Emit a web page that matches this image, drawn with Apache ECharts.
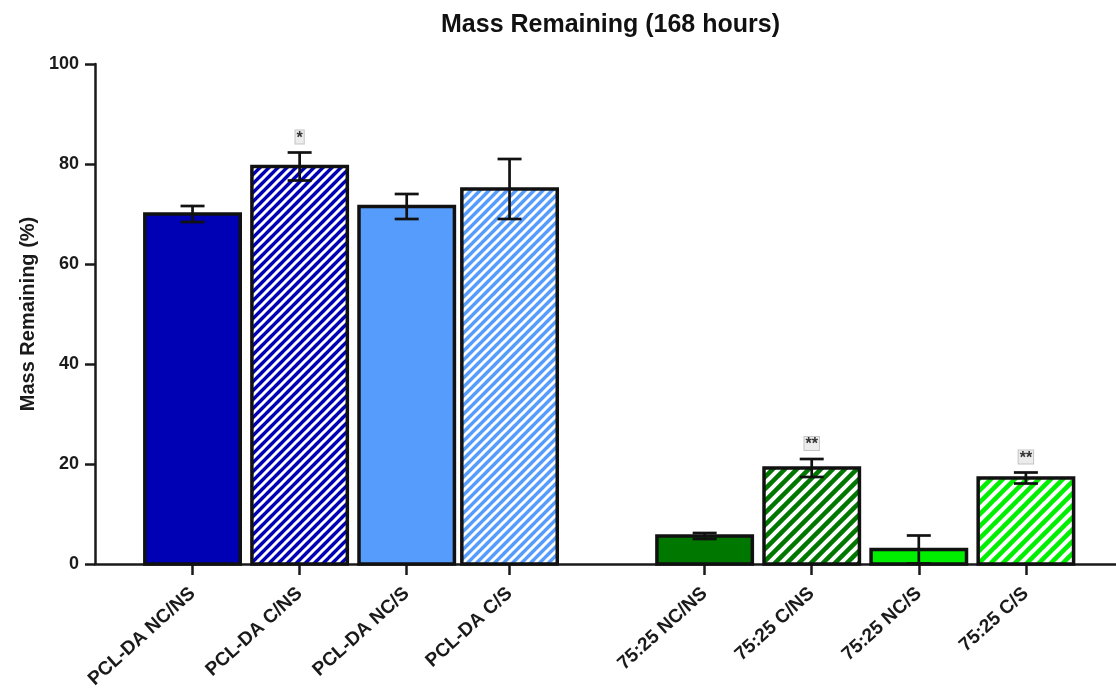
<!DOCTYPE html>
<html>
<head>
<meta charset="utf-8">
<script src="https://cdn.jsdelivr.net/npm/echarts@6/dist/echarts.min.js"></script>
<style>
  html, body { margin: 0; padding: 0; background: #fff; }
  #chart { width: 1116px; height: 696px; }
</style>
</head>
<body>
<div id="chart"></div>
<script>
// Groups and their positions along the x axis (gap between the two materials)
const groups = ['PCL-DA NC/NS', 'PCL-DA C/NS', 'PCL-DA NC/S', 'PCL-DA C/S',
                '75:25 NC/NS', '75:25 C/NS', '75:25 NC/S', '75:25 C/S'];
const positions = [0.92, 1.93, 2.94, 3.91, 5.75, 6.76, 7.77, 8.78];
// Mean mass remaining (%) and error (±)
const means = [70.0, 79.5, 71.5, 75.0, 5.6, 19.2, 2.9, 17.2];
const errors = [1.6, 2.8, 2.5, 6.0, 0.6, 1.8, 2.8, 1.1];
// Significance markers
const marks = ['', '*', '', '', '', '**', '', '**'];

// Fill style per bar: base colour and whether it is hatched
const fills = [
  { color: '#0000B4', hatch: false },
  { color: '#0000B4', hatch: true, period: 9, line: 3 },
  { color: '#569CFC', hatch: false },
  { color: '#569CFC', hatch: true, period: 9, line: 3 },
  { color: '#007800', hatch: false },
  { color: '#007800', hatch: true, period: 12, line: 4 },
  { color: '#00EE00', hatch: false },
  { color: '#00EE00', hatch: true, period: 12, line: 4 }
];

function makeHatch(color, p, w) {
  const c = document.createElement('canvas');
  c.width = p; c.height = p;
  const g = c.getContext('2d');
  g.fillStyle = color;
  g.fillRect(0, 0, p, p);
  g.strokeStyle = '#ffffff';
  g.lineWidth = w;
  g.lineCap = 'square';
  for (let k = -1; k <= 1; k++) {
    g.beginPath();
    g.moveTo(k * p, p);
    g.lineTo(k * p + p, 0);
    g.stroke();
  }
  return { image: c, repeat: 'repeat' };
}
const fillStyles = fills.map(f => f.hatch ? makeHatch(f.color, f.period, f.line) : f.color);

const seriesData = positions.map((x, i) => [x, means[i], errors[i], i]);

const ink = '#1a1a1a';
const font = '"Liberation Sans", Arial, sans-serif';

const chart = echarts.init(document.getElementById('chart'), null, { renderer: 'canvas' });

function labelFor(v) {
  for (let i = 0; i < positions.length; i++) {
    if (Math.abs(positions[i] - v) < 1e-6) return groups[i];
  }
  return '';
}

chart.setOption({
  animation: false,
  backgroundColor: '#ffffff',
  title: {
    text: 'Mass Remaining (168 hours)',
    left: 436,
    top: 8,
    textStyle: { fontFamily: font, fontSize: 25, fontWeight: 'bold', color: '#111' }
  },
  grid: { left: 95, right: 0, top: 64, bottom: 132, containLabel: false },
  xAxis: {
    type: 'value',
    min: 0,
    max: 9.63,
    splitLine: { show: false },
    axisLine: { show: true, onZero: false, lineStyle: { color: ink, width: 2.5 } },
    axisTick: { show: true, customValues: positions, length: 11, lineStyle: { color: ink, width: 2.5 } },
    axisLabel: {
      show: true,
      customValues: positions,
      formatter: labelFor,
      rotate: 42,
      margin: 27,
      fontFamily: font,
      fontSize: 19,
      fontWeight: 'bold',
      color: ink
    }
  },
  yAxis: {
    type: 'value',
    min: 0,
    max: 100,
    interval: 20,
    name: 'Mass Remaining (%)',
    nameLocation: 'middle',
    nameGap: 56,
    nameTextStyle: { fontFamily: font, fontSize: 20, fontWeight: 'bold', color: ink },
    splitLine: { show: false },
    axisLine: { show: true, lineStyle: { color: ink, width: 2.5 } },
    axisTick: { show: true, length: 10, lineStyle: { color: ink, width: 2.5 } },
    axisLabel: { fontFamily: font, fontSize: 18, fontWeight: 'bold', color: ink, margin: 16 }
  },
  series: [{
    type: 'custom',
    data: seriesData,
    encode: { x: 0, y: 1 },
    clip: false,
    renderItem: function (params, api) {
      const x = api.value(0);
      const m = api.value(1);
      const e = api.value(2);
      const i = api.value(3);
      const half = api.size([0.9, 0])[0] / 2;
      const top = api.coord([x, m]);
      const base = api.coord([x, 0]);
      const hi = api.coord([x, m + e]);
      const lo = api.coord([x, m - e]);
      const cap = 12;
      const children = [
        {
          type: 'rect',
          shape: { x: top[0] - half, y: top[1], width: half * 2, height: base[1] - top[1] },
          style: { fill: fillStyles[i], stroke: '#111', lineWidth: 3.5 }
        },
        {
          type: 'line',
          shape: { x1: hi[0], y1: hi[1], x2: lo[0], y2: lo[1] },
          style: { stroke: '#111', lineWidth: 2.7 }
        },
        {
          type: 'line',
          shape: { x1: hi[0] - cap, y1: hi[1], x2: hi[0] + cap, y2: hi[1] },
          style: { stroke: '#111', lineWidth: 2.7 }
        },
        {
          type: 'line',
          shape: { x1: lo[0] - cap, y1: lo[1], x2: lo[0] + cap, y2: lo[1] },
          style: { stroke: '#111', lineWidth: 2.7 }
        }
      ];
      if (marks[i]) {
        children.push({
          type: 'text',
          style: {
            x: hi[0],
            y: hi[1] - 9,
            text: marks[i],
            align: 'center',
            verticalAlign: 'bottom',
            fontFamily: font,
            fontSize: 16,
            fontWeight: 'bold',
            fill: '#333',
            backgroundColor: '#ececec',
            borderColor: '#c4c4c4',
            borderWidth: 1,
            padding: [0, 1, -3, 1]
          }
        });
      }
      return { type: 'group', children: children };
    }
  }]
});
</script>
</body>
</html>
